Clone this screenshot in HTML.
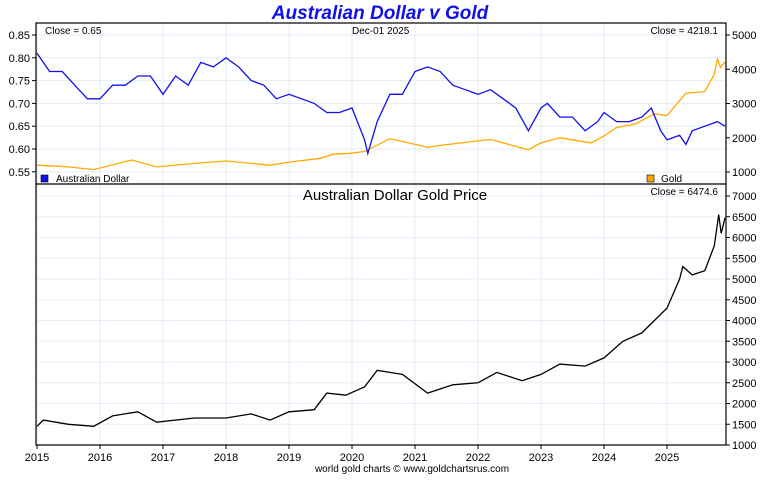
<!DOCTYPE html>
<html><head><meta charset="utf-8"><style>
body{margin:0;background:#fff;}
svg text{font-family:"Liberation Sans",Arial,sans-serif;}
</style></head><body>
<svg id="c" width="760" height="475" xmlns="http://www.w3.org/2000/svg"></svg>
<script>
const years=[2015,2016,2017,2018,2019,2020,2021,2022,2023,2024,2025];
const audT=[2015,2015.2,2015.4,2015.6,2015.8,2016,2016.2,2016.4,2016.6,2016.8,2017,2017.2,2017.4,2017.6,2017.8,2018,2018.2,2018.4,2018.6,2018.8,2019,2019.2,2019.4,2019.6,2019.8,2020,2020.2,2020.25,2020.4,2020.6,2020.8,2021,2021.2,2021.4,2021.6,2021.8,2022,2022.2,2022.4,2022.6,2022.8,2023,2023.1,2023.3,2023.5,2023.7,2023.9,2024,2024.2,2024.4,2024.6,2024.75,2024.9,2025,2025.2,2025.3,2025.4,2025.6,2025.8,2025.92];
const audV=[0.81,0.77,0.77,0.74,0.71,0.71,0.74,0.74,0.76,0.76,0.72,0.76,0.74,0.79,0.78,0.80,0.78,0.75,0.74,0.71,0.72,0.71,0.70,0.68,0.68,0.69,0.62,0.59,0.66,0.72,0.72,0.77,0.78,0.77,0.74,0.73,0.72,0.73,0.71,0.69,0.64,0.69,0.70,0.67,0.67,0.64,0.66,0.68,0.66,0.66,0.67,0.69,0.64,0.62,0.63,0.61,0.64,0.65,0.66,0.65];
const goldT=[2015,2015.5,2015.9,2016.5,2016.9,2017.5,2018,2018.7,2019,2019.5,2019.7,2020,2020.2,2020.6,2020.9,2021.2,2021.5,2022.2,2022.8,2023,2023.3,2023.8,2024,2024.2,2024.5,2024.8,2025,2025.3,2025.6,2025.75,2025.8,2025.85,2025.92];
const goldV=[1200,1150,1070,1350,1150,1250,1320,1200,1290,1400,1520,1550,1600,1970,1850,1720,1800,1950,1650,1850,2000,1850,2050,2300,2400,2700,2650,3300,3350,3850,4300,4050,4218];
const agT=[2015,2015.1,2015.5,2015.9,2016.2,2016.6,2016.9,2017.5,2018,2018.4,2018.7,2019,2019.4,2019.6,2019.9,2020.2,2020.4,2020.6,2020.8,2021.2,2021.6,2022,2022.3,2022.7,2023,2023.3,2023.7,2024,2024.3,2024.6,2024.8,2025,2025.2,2025.25,2025.4,2025.6,2025.75,2025.82,2025.86,2025.92];
const agV=[1450,1600,1500,1450,1700,1800,1550,1650,1650,1750,1600,1800,1850,2250,2200,2400,2800,2750,2700,2250,2450,2500,2750,2550,2700,2950,2900,3100,3500,3700,4000,4300,5000,5300,5100,5200,5800,6550,6100,6475];
const audTicks=[0.55,0.60,0.65,0.70,0.75,0.80,0.85];
const goldTicks=[1000,2000,3000,4000,5000];
const agTicks=[1000,1500,2000,2500,3000,3500,4000,4500,5000,5500,6000,6500,7000];

const L=36,R=726,T1=23,B1=184,B2=445;
const X=t=>37+(t-2015)*63;
const yA=v=>35+(0.85-v)/0.05*22.8;
const yG=v=>35+(5000-v)/1000*34.25;
const yB=v=>445-(v-1000)/500*20.75;
const svg=document.getElementById('c');
const NS='http://www.w3.org/2000/svg';
function mk(tag,attrs,parent){const e=document.createElementNS(NS,tag);for(const k in attrs)e.setAttribute(k,attrs[k]);(parent||svg).appendChild(e);return e;}
function txt(s,x,y,size,anchor,parent){const e=mk('text',{x:x,y:y,'font-size':size,'text-anchor':anchor||'start',fill:'#000'},parent);e.textContent=s;return e;}

// grids
const grid=mk('g',{stroke:'#e3eef8','stroke-width':1});


years.forEach(y=>{mk('line',{x1:X(y),x2:X(y),y1:T1,y2:B2},grid);});
audTicks.forEach(v=>{mk('line',{x1:L,x2:R,y1:yA(v),y2:yA(v)},grid);});
agTicks.forEach(v=>{mk('line',{x1:L,x2:R,y1:yB(v),y2:yB(v)},grid);});

function line(T,V,fx,fy,color,name){const p=T.map((t,i)=>fx(t).toFixed(1)+','+fy(V[i]).toFixed(1)).join(' ');const e=mk('polyline',{points:p,fill:'none',stroke:color,'stroke-width':1.3});}
line(goldT,goldV,X,yG,'#ffaa00','gold-usd-line');
line(audT,audV,X,yA,'#1010ee','aud-line');
line(agT,agV,X,yB,'#000','aud-gold-line');

// frames
mk('rect',{x:L,y:T1,width:R-L,height:B2-T1,fill:'none',stroke:'#000','stroke-width':1.2});
mk('line',{x1:L,x2:R,y1:B1,y2:B1,stroke:'#000','stroke-width':1.2});

// ticks
audTicks.forEach(v=>{mk('line',{x1:L-4,x2:L,y1:yA(v),y2:yA(v),stroke:'#000'});const t=txt(v.toFixed(2),L-6,yA(v)+4,11,'end');});
goldTicks.forEach(v=>{mk('line',{x1:R,x2:R+4,y1:yG(v),y2:yG(v),stroke:'#000'});const t=txt(String(v),R+6,yG(v)+4,11,'start');});
agTicks.forEach(v=>{mk('line',{x1:R,x2:R+4,y1:yB(v),y2:yB(v),stroke:'#000'});const t=txt(String(v),R+6,yB(v)+4,11,'start');});
years.forEach(y=>{mk('line',{x1:X(y),x2:X(y),y1:B2,y2:B2+4,stroke:'#000'});const t=txt(String(y),X(y),B2+16,11,'middle');});

// texts
const ti=txt('Australian Dollar v Gold',380,19,19,'middle');ti.setAttribute('fill','#1010ee');ti.setAttribute('font-weight','bold');ti.setAttribute('font-style','italic');

txt('Close = 0.65',45,34,10);
txt('Dec-01  2025',352,34,10);
txt('Close = 4218.1',718,34,10,'end');
txt('Close = 6474.6',718,195,10,'end');
const st=txt('Australian Dollar Gold Price',395,200,15,'middle');
const f=txt('world gold charts © www.goldchartsrus.com',412,472,10,'middle');
// legends
const l1=mk('rect',{x:41,y:175,width:7,height:7,fill:'#1010ee',stroke:'#000','stroke-width':0.6});
txt('Australian Dollar',56,182,10);
const l2=mk('rect',{x:647,y:175,width:7,height:7,fill:'#ffaa00',stroke:'#000','stroke-width':0.6});
txt('Gold',661,182,10);
</script>
</body></html>
